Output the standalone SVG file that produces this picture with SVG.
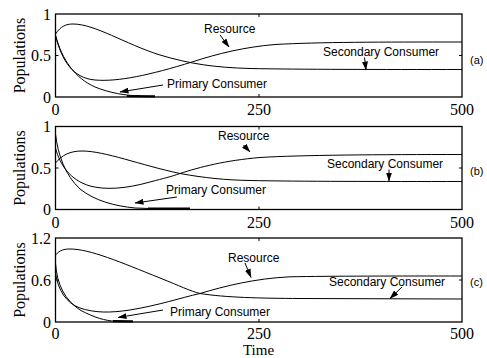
<svg xmlns="http://www.w3.org/2000/svg" width="487" height="358" viewBox="0 0 487 358">
<style>
.frame{fill:none;stroke:#000;stroke-width:1.3}
.tick{stroke:#000;stroke-width:1}
.curve{fill:none;stroke:#000;stroke-width:1}
.flat{fill:none;stroke:#000;stroke-width:2.2}
.num{font-family:"Liberation Serif","Times New Roman",serif;font-size:16px;fill:#000}
.lab{font-family:"Liberation Sans",Arial,sans-serif;font-size:12px;fill:#000}
.pan{font-family:"Liberation Sans",Arial,sans-serif;font-size:11px;fill:#000}
.arr{fill:none;stroke:#000;stroke-width:1;marker-end:url(#ah)}
</style>
<defs>
<marker id="ah" markerWidth="9" markerHeight="6" refX="8.5" refY="3" orient="auto" markerUnits="userSpaceOnUse">
<path d="M0,0 L9,3 L0,6 z" fill="#000"/>
</marker>
</defs>
<rect width="487" height="358" fill="#fff"/>

<g id="panel-a">
<rect class="frame" x="55.5" y="14" width="406.5" height="83"/>
<path class="tick" d="M55.5,55.5h3 M462,55.5h-3 M259,14v3 M259,97v-3"/>
<text class="num" x="51" y="19.5" text-anchor="end">1</text>
<text class="num" x="51" y="61" text-anchor="end">0.5</text>
<text class="num" x="51" y="102.5" text-anchor="end">0</text>
<text class="num" x="55.5" y="115" text-anchor="middle">0</text>
<text class="num" x="259" y="115" text-anchor="middle">250</text>
<text class="num" x="462" y="115" text-anchor="middle">500</text>
<text class="num" transform="translate(25,55.5) rotate(-90)" text-anchor="middle">Populations</text>
<path class="curve" d="M55.5,34 C61,26 66,24 73,24 C95,24 125,44 160,55 C190,64 215,67.5 250,68.5 C300,69.5 380,69.5 462,69.5"/>
<path class="curve" d="M55.5,36 C62,60 72,78 95,80 C118,82 150,75 192,62 C218,53.5 245,47 275,44.5 C320,42 380,42 462,42"/>
<path class="curve" d="M55.5,35 C62,60 75,78 95,87 C110,93 125,95.5 140,96"/>
<path class="flat" d="M127,96 L155,96.3"/>
<text class="lab" x="204" y="33">Resource</text>
<text class="lab" x="323" y="56">Secondary Consumer</text>
<text class="lab" x="167" y="88">Primary Consumer</text>
<text class="pan" x="470" y="64">(a)</text>
</g>

<g id="panel-b">
<rect class="frame" x="55.5" y="126.5" width="406.5" height="83"/>
<path class="tick" d="M55.5,168h3 M462,168h-3 M259,126.5v3 M259,209.5v-3"/>
<text class="num" x="51" y="132" text-anchor="end">1</text>
<text class="num" x="51" y="173.5" text-anchor="end">0.5</text>
<text class="num" x="51" y="215" text-anchor="end">0</text>
<text class="num" x="55.5" y="228" text-anchor="middle">0</text>
<text class="num" x="259" y="228" text-anchor="middle">250</text>
<text class="num" x="462" y="228" text-anchor="middle">500</text>
<text class="num" transform="translate(25,168) rotate(-90)" text-anchor="middle">Populations</text>
<path class="curve" d="M55.5,134 C58,155 65,175 80,189 C95,201 115,206 135,208 L150,208.5"/>
<path class="flat" d="M148,208.5 L190,208.6"/>
<path class="curve" d="M55.5,163 C62,155 70,151 82,151 C105,151 140,165 180,173.5 C205,178 225,180 250,180.5 C300,181.5 380,181.5 462,181.5"/>
<path class="curve" d="M55.5,148 C60,165 70,180 90,186 C105,190 125,189 150,182 C165,178 170,177 180,173.5 C200,167 225,160.5 260,157.5 C300,155 380,154.5 462,154.5"/>
<text class="lab" x="218" y="140">Resource</text>
<text class="lab" x="327" y="168">Secondary Consumer</text>
<text class="lab" x="166" y="194">Primary Consumer</text>
<text class="pan" x="470" y="175">(b)</text>
</g>

<g id="panel-c">
<rect class="frame" x="55.5" y="238" width="406.5" height="84"/>
<path class="tick" d="M55.5,280h3 M462,280h-3 M259,238v3 M259,322v-3"/>
<text class="num" x="51" y="243.5" text-anchor="end">1.2</text>
<text class="num" x="51" y="285.5" text-anchor="end">0.6</text>
<text class="num" x="51" y="327.5" text-anchor="end">0</text>
<text class="num" x="55.5" y="339" text-anchor="middle">0</text>
<text class="num" x="259" y="339" text-anchor="middle">250</text>
<text class="num" x="462" y="339" text-anchor="middle">500</text>
<text class="num" transform="translate(25,280) rotate(-90)" text-anchor="middle">Populations</text>
<text class="num" x="258.5" y="355" text-anchor="middle" style="font-size:15px">Time</text>
<path class="curve" d="M55.5,255 C60,250 64,249 70,249 C90,249 120,262 160,278 C180,286 190,291 200,293.5 C225,297.5 260,298.3 300,298.5 L462,299"/>
<path class="curve" d="M55.5,273 C58,290 66,303 80,308 C95,313 110,313 130,310 C160,305 180,298 200,293.5 C225,286 255,278.5 290,276.8 C330,276 400,276 462,276"/>
<path class="curve" d="M55.5,263 C57,285 65,300 80,310 C95,318 105,320.5 115,321.3"/>
<path class="flat" d="M113,321.2 L133,321.4"/>
<text class="lab" x="228" y="262">Resource</text>
<text class="lab" x="329" y="286">Secondary Consumer</text>
<text class="lab" x="170" y="316">Primary Consumer</text>
<text class="pan" x="470" y="286">(c)</text>
</g>

<g id="connectors">
<path class="arr" d="M220,35 L229,47"/>
<path class="arr" d="M364.5,57.5 L366,70"/>
<path class="arr" d="M163,85 L120,92"/>
<path class="arr" d="M243.5,145 L250,152"/>
<path class="arr" d="M389,169.5 L389,181"/>
<path class="arr" d="M177,197 L135,203"/>
<path class="arr" d="M245,263 L251,277.5"/>
<path class="arr" d="M402,287 L390,298.5"/>
<path class="arr" d="M163,310 L118,317.5"/>
</g>
</svg>
